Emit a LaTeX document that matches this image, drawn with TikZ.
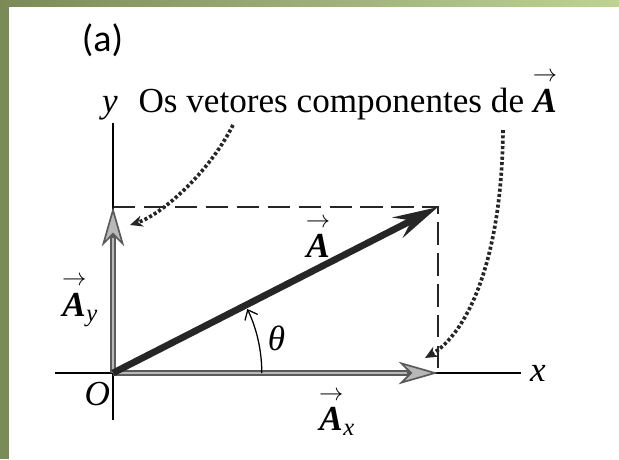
\documentclass[tikz,border=0pt]{standalone}
\usepackage{amsmath}
\usepackage{fontspec}
\setmainfont{Liberation Serif}
\newfontfamily\tagfont{Carlito}
\usetikzlibrary{arrows.meta, calc}
\definecolor{cframe}{HTML}{7B8B57}
\definecolor{cframel}{HTML}{BED295}
\definecolor{cdark}{HTML}{262626}
\definecolor{cgrey}{HTML}{5A5A5A}
\definecolor{clight}{HTML}{B8B8B8}
\newcommand{\vecA}{\overset{\rightarrow}{\textbf{\textit{A}}}}
\tikzset{
  every picture/.style={font=\fontsize{25}{30}\selectfont, line width=1pt},
  axis/.style={line width=1pt, draw=black},
  guide/.style={line width=1pt, draw=black!85, dash pattern=on 16pt off 6pt},
  hint/.style={draw=cdark, line width=2.6pt, dash pattern=on 2.2pt off 1.6pt, -{Stealth[length=9pt, width=8pt]}},
  lbl/.style={inner sep=1pt},
}

\begin{document}
\begin{tikzpicture}[vecmain/.style={draw=cdark, line width=4.8pt, -{Stealth[length=32pt, width=16pt, inset=11pt]}},
                    vecpart/.style={draw=cgrey, line width=4.2pt, -{Stealth[length=28pt, width=16pt, inset=8pt, fill=clight, line width=1.2pt]},
                                    postaction={draw=clight, line width=1.8pt, -, shorten >=22pt}},
                    anglearc/.style={line width=0.9pt, -{Straight Barb[length=6pt, width=10pt]}}]
  % frame
  \useasboundingbox (-2.825,-2.15) rectangle (12.65,9.325);
  \fill[white] (-2.825,-2.15) rectangle (12.65,9.325);
  \fill[cframe] (-2.825,-2.15) rectangle (-2.6,9.325);
  \shade[left color=cframe, right color=cframel] (-2.825,9.175) rectangle (12.65,9.325);
  % points
  \coordinate (O) at (0,0);
  \coordinate (Ay) at (0,4.15);
  \coordinate (Ax) at (8.125,0);
  \coordinate (C) at (8.125,4.15);
  \coordinate (xl) at (-1.45,0); \coordinate (xr) at (10.2,0);
  \coordinate (yb) at (0,-1.175); \coordinate (yt) at (0,6.25);
  % axes and guides
  \draw[guide] (Ay) -- (C) -- (Ax);
  \draw[axis] (xl) -- (xr);
  \draw[axis] (yb) -- (yt);
  % vectors
  \draw[vecpart] (O) -- (Ax);
  \draw[vecpart] (O) -- (Ay);
  \draw[vecmain] (O) -- (C);
  \draw[anglearc] ($(O)+(0:3.72)$) arc[start angle=0, end angle=25.5, radius=3.72];
  % labels
  \node[font=\tagfont\fontsize{27}{32}\selectfont] (tag) at (-0.2625,8.325) {(a)};
  \node[lbl, anchor=base] (ylab) at (-0.075,6.525) {\textit{y}};
  \node[lbl, anchor=base west] (cap) at (0.5875,6.525) {Os vetores componentes de $\vecA$};
  \node[lbl] (xlab) at (10.625,-0.01) {\textit{x}};
  \node[lbl] (olab) at (-0.39,-0.53) {\textit{O}};
  \node[lbl] (th) at (4.09,0.875) {\textit{θ}};
  \node[lbl] (alab) at (5.125,3.425) {$\vecA$};
  \node[lbl] (aylab) at (-0.825,1.825) {$\vecA_{\textit{y}}$};
  \node[lbl] (axlab) at (5.6,-0.975) {$\vecA_{\textit{x}}$};
  % pointers from the caption
  \coordinate (p1) at (3.0,6.2); \coordinate (q1) at (0.425,3.7);
  \coordinate (p2) at (9.75,6.075); \coordinate (q2) at (7.8,0.375);
  \draw[hint] (p1) .. controls (2.4,5.0) and (1.2,3.95) .. (q1);
  \draw[hint] (p2) .. controls (9.72,2.7) and (8.8,0.95) .. (q2);
\end{tikzpicture}
\end{document}
